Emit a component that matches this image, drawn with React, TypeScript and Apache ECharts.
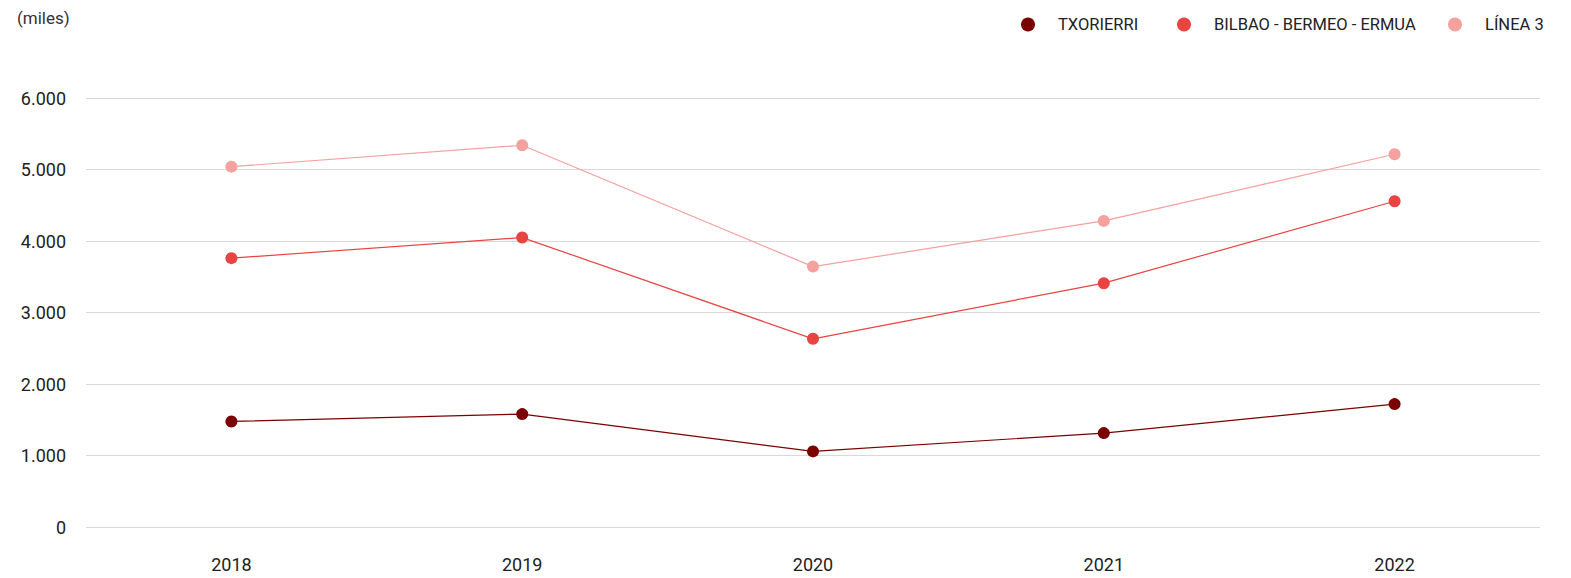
import React, { useEffect, useRef } from "react";
import * as echarts from "echarts";

const categories = ["2018", "2019", "2020", "2021", "2022"];
const txorierri = [1476, 1579, 1057, 1313, 1719];
const bilbao = [3760, 4048, 2632, 3410, 4556];
const linea3 = [5040, 5339, 3642, 4281, 5213];
const seriesNames = ["TXORIERRI", "BILBAO - BERMEO - ERMUA", "LÍNEA 3"];
const colors = ["#7b0000", "#e84442", "#f4a19f"];
const unitLabel = "(miles)";
const legendLefts = [1021, 1177, 1448];

const fmt = (v: number) => {
  const s = String(Math.round(v));
  return s.replace(/\B(?=(\d{3})+(?!\d))/g, ".");
};

export default function App() {
  const ref = useRef<HTMLDivElement>(null);
  useEffect(() => {
    if (!ref.current) return;
    const chart = echarts.init(ref.current, null, { renderer: "svg" });
    const data = [txorierri, bilbao, linea3];
    chart.setOption({
      animation: false,
      textStyle: { fontFamily: "Roboto" },
      graphic: [
        {
          type: "text",
          left: 17,
          top: 9,
          style: { text: unitLabel, fontSize: 17, fill: "#333", fontFamily: "Roboto" },
        },
      ],
      legend: seriesNames.map((name, i) => ({
        left: legendLefts[i],
        top: 16,
        padding: 0,
        icon: "circle",
        itemWidth: 50,
        itemHeight: 14,
        textStyle: { fontSize: 16.5, color: "#222", fontFamily: "Roboto", padding: [0, 0, 0, 0] },
        data: [name],
      })),
      grid: { left: 86, right: 31, top: 98, bottom: 51 },
      xAxis: {
        type: "category",
        data: categories,
        boundaryGap: true,
        axisLine: { show: false },
        axisTick: { show: false },
        axisLabel: { margin: 28, fontSize: 18, color: "#222", fontFamily: "Roboto" },
      },
      yAxis: {
        type: "value",
        min: 0,
        max: 6000,
        interval: 1000,
        axisLine: { show: false },
        axisTick: { show: false },
        splitLine: { lineStyle: { color: "#d9d9d9", width: 1 } },
        axisLabel: {
          margin: 20,
          fontSize: 18,
          color: "#222",
          fontFamily: "Roboto",
          formatter: (v: number) => fmt(v),
        },
      },
      series: seriesNames.map((name, i) => ({
        name,
        type: "line",
        data: data[i],
        symbol: "circle",
        symbolSize: 12,
        itemStyle: { color: colors[i] },
        lineStyle: { color: colors[i], width: 1.2 },
      })),
    });
    return () => chart.dispose();
  }, []);
  return <div ref={ref} style={{ width: 1571, height: 578, position: "absolute", left: 0, top: 0 }} />;
}
